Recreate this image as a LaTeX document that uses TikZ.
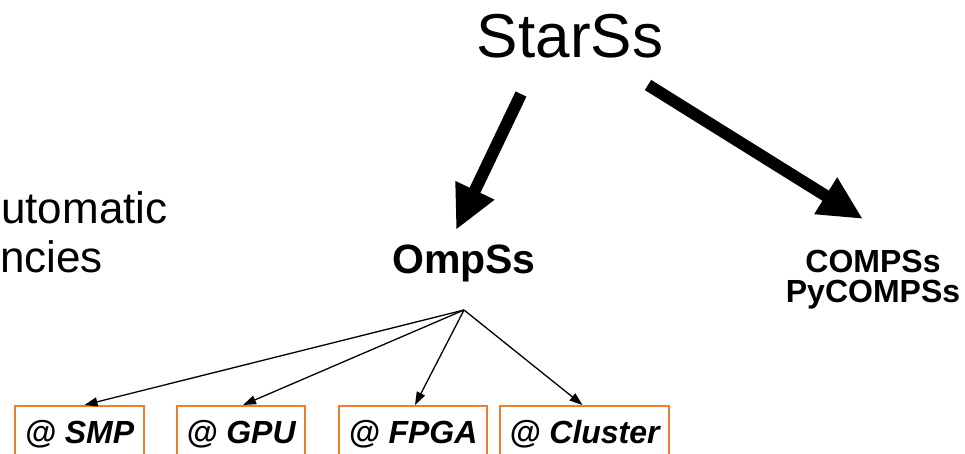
\documentclass[tikz,border=0pt]{standalone}
\usepackage{fontspec}
\setmainfont{Liberation Sans}
\usetikzlibrary{arrows.meta}
\definecolor{boxorange}{RGB}{237,125,49}
\tikzset{
  bigarrow/.style={line width=12pt,-{Triangle[width=40pt,length=44pt]}},
  thinarrow/.style={line width=1.3pt,-{Triangle[width=9pt,length=13pt]}},
  target/.style={draw=boxorange,line width=1.5pt,anchor=north,minimum height=56pt,inner sep=0pt,
    font=\fontsize{32}{36}\selectfont\bfseries\itshape},
}
\begin{document}
\begin{tikzpicture}[x=1pt,y=-1pt]
\useasboundingbox (0,0) rectangle (965,453);
\clip (0,0) rectangle (965,453);
\node[anchor=base,inner sep=0pt,font=\fontsize{62}{70}\selectfont] (starss) at (570,57) {StarSs};
\node[anchor=base west,inner sep=0pt,font=\fontsize{44}{50}\selectfont] (auto) at (1,223) {utomatic};
\node[anchor=base west,inner sep=0pt,font=\fontsize{44}{50}\selectfont] (deps) at (0,272) {ncies};
\node[anchor=base,inner sep=0pt,font=\fontsize{41}{46}\selectfont\bfseries] (ompss) at (464,273) {OmpSs};
\node[align=center,inner sep=0pt,font=\fontsize{32}{30}\selectfont\bfseries] (compss) at (873,280) {COMPSs\\PyCOMPSs};
\coordinate (s1) at (521,94);
\coordinate (t1) at (456,230);
\coordinate (s2) at (648,85);
\coordinate (t2) at (863,219);
\draw[bigarrow] (s1) -- (t1);
\draw[bigarrow] (s2) -- (t2);
\coordinate (fan) at (464,310);
\node[target,minimum width=129pt] (smp) at (79.5,405) {@ SMP};
\node[target,minimum width=128pt] (gpu) at (241,405) {@ GPU};
\node[target,minimum width=148pt] (fpga) at (413,405) {@ FPGA};
\node[target,minimum width=169pt] (cluster) at (584.5,405) {@ Cluster};
\draw[thinarrow] (fan) -- ([xshift=5pt]smp.north);
\draw[thinarrow] (fan) -- ([xshift=2pt]gpu.north);
\draw[thinarrow] (fan) -- ([xshift=2pt]fpga.north);
\draw[thinarrow] (fan) -- ([xshift=-2pt]cluster.north);
\end{tikzpicture}
\end{document}
